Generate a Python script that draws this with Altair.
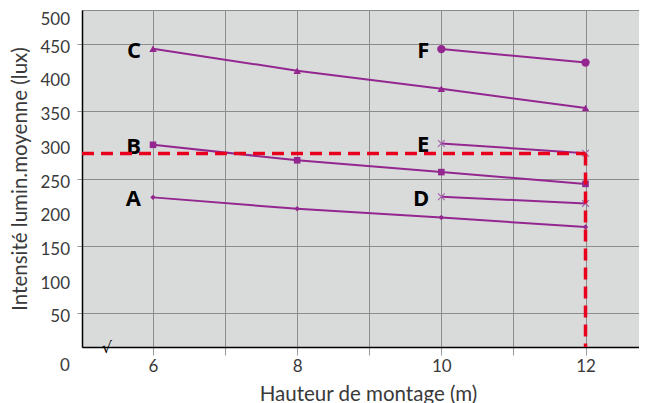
import altair as alt
import pandas as pd

# ---- data ----
series_names = ["A", "B", "C", "D", "E", "F"]
heights_ABC = [6, 8, 10, 12]
heights_DEF = [10, 12]
values_A = [222, 205, 192, 178]
values_B = [300, 277, 259.5, 242]
values_C = [442.5, 410, 383, 354.5]
values_D = [223, 213]
values_E = [302, 287.5]
values_F = [442, 422]
threshold_lux = 287
target_height = 12
x_domain = [5.015, 12.742]
y_domain = [0, 500]
x_ticks = [6, 7, 8, 9, 10, 11, 12]
y_ticks = [50, 100, 150, 200, 250, 300, 350, 400, 450, 500]
x_title = "Hauteur de montage (m)"
y_title = "Intensité lumin.moyenne (lux)"
origin_label = "0"
origin_label_x = 4.78
break_x = 5.36

PURPLE = "#93278f"
RED = "#e8001c"
FONT = "Lato"
LABEL_COLOR = "#3a3a3a"

series_data = {
    "A": (heights_ABC, values_A),
    "B": (heights_ABC, values_B),
    "C": (heights_ABC, values_C),
    "D": (heights_DEF, values_D),
    "E": (heights_DEF, values_E),
    "F": (heights_DEF, values_F),
}
rows = []
for name in series_names:
    xs_, ys_ = series_data[name]
    for i, (x, y) in enumerate(zip(xs_, ys_)):
        rows.append({"series": name, "h": x, "lux": y, "first": i == 0})
df = pd.DataFrame(rows)

xs = alt.Scale(domain=x_domain, nice=False, zero=False)
ys = alt.Scale(domain=y_domain, nice=False)

x_axis = alt.Axis(
    values=x_ticks,
    format="d",
    labelExpr="datum.value % 2 == 0 ? datum.label : ''",
    title=x_title,
    tickSize=8,
    labelPadding=3,
    titleX=286,
    titleY=37,
    titleBaseline="top",
)
y_axis = alt.Axis(
    values=y_ticks,
    labels=False,
    title=y_title,
    tickSize=5,
    titleX=-62,
    titleY=168.5,
    titleAngle=-90,
    titleAlign="center",
    titleBaseline="middle",
)

base = alt.Chart(df)

lines = base.mark_line(color=PURPLE, strokeWidth=2).encode(
    x=alt.X("h:Q", scale=xs, axis=x_axis),
    y=alt.Y("lux:Q", scale=ys, axis=y_axis),
    detail="series:N",
)

filled_names = ["A", "B", "C", "F"]
pts = base.transform_filter(
    alt.FieldOneOfPredicate(field="series", oneOf=filled_names)
).mark_point(filled=True, opacity=1, color=PURPLE).encode(
    x=alt.X("h:Q", scale=xs),
    y=alt.Y("lux:Q", scale=ys),
    shape=alt.Shape(
        "series:N",
        scale=alt.Scale(domain=filled_names, range=["diamond", "square", "triangle-up", "circle"]),
        legend=None,
    ),
    size=alt.Size(
        "series:N",
        scale=alt.Scale(domain=filled_names, range=[30, 70, 70, 60]),
        legend=None,
    ),
)

xpts = base.transform_filter(
    alt.FieldOneOfPredicate(field="series", oneOf=["D", "E"])
).mark_point(
    shape="M-1,-1L1,1M-1,1L1,-1", filled=False, color="#a463ac", size=45, strokeWidth=1.2, opacity=1
).encode(
    x=alt.X("h:Q", scale=xs),
    y=alt.Y("lux:Q", scale=ys),
)

labels = base.transform_filter(alt.datum.first).mark_text(
    align="right", baseline="middle", dx=-12, dy=2, fontSize=22, fontWeight="bold",
    font="Open Sans", color="#000000"
).encode(
    x=alt.X("h:Q", scale=xs),
    y=alt.Y("lux:Q", scale=ys),
    text="series:N",
)

# y tick labels, positioned by the y scale
ytick_df = pd.DataFrame({"lux": y_ticks})
ylabels = alt.Chart(ytick_df).transform_filter(
    alt.datum.lux < y_domain[1]
).mark_text(
    align="right", baseline="middle", dy=4, fontSize=17, font=FONT, color=LABEL_COLOR
).encode(
    x=alt.value(-12),
    y=alt.Y("lux:Q", scale=ys),
    text=alt.Text("lux:Q", format="d"),
)
ylabel_top = alt.Chart(ytick_df).transform_filter(
    alt.datum.lux >= y_domain[1]
).mark_text(
    align="right", baseline="middle", dy=10, fontSize=17, font=FONT, color=LABEL_COLOR
).encode(
    x=alt.value(-12),
    y=alt.Y("lux:Q", scale=ys),
    text=alt.Text("lux:Q", format="d"),
)

hrule_df = pd.DataFrame({"h": [x_domain[0]], "x1": [target_height], "lux": [threshold_lux]})
vrule_df = pd.DataFrame({"h": [target_height], "y0": [y_domain[0]], "lux": [threshold_lux]})

hrule = alt.Chart(hrule_df).mark_rule(
    color=RED, strokeWidth=3.5, strokeDash=[12, 7]
).encode(
    x=alt.X("h:Q", scale=xs), x2="x1:Q", y=alt.Y("lux:Q", scale=ys)
)
vrule = alt.Chart(vrule_df).mark_rule(
    color=RED, strokeWidth=3.5, strokeDash=[12, 7]
).encode(
    x=alt.X("h:Q", scale=xs), y=alt.Y("lux:Q", scale=ys), y2="y0:Q"
)

misc_df = pd.DataFrame({"h": [origin_label_x], "lux": [y_domain[0]], "t": [origin_label]})
origin = alt.Chart(misc_df).mark_text(
    fontSize=17, font=FONT, color=LABEL_COLOR, baseline="middle", dy=19
).encode(x=alt.X("h:Q", scale=xs), y=alt.Y("lux:Q", scale=ys), text="t:N")

brk_df = pd.DataFrame({"h": [break_x], "lux": [y_domain[0]], "t": ["√"]})
brk = alt.Chart(brk_df).mark_text(
    fontSize=16, font="DejaVu Sans", color="#000000", baseline="middle", dy=1
).encode(x=alt.X("h:Q", scale=xs), y=alt.Y("lux:Q", scale=ys), text="t:N")

chart = alt.layer(
    lines, pts, xpts, labels, ylabels, ylabel_top, hrule, vrule, origin, brk
).properties(
    width=557,
    height=337,
    background="#ffffff",
    autosize=alt.AutoSizeParams(type="none"),
    padding={"left": 74, "top": 2, "right": 0, "bottom": 56},
).configure_view(
    fill="#d9dbdb", stroke="#8a8a8a", strokeWidth=1
).configure_axis(
    grid=True,
    gridColor="#8c8c8c",
    tickColor="#9a9a9a",
    domainColor="#000000",
    domainWidth=1.5,
    labelFontSize=17,
    labelColor=LABEL_COLOR,
    labelFont=FONT,
    titleFont=FONT,
    titleFontSize=20.5,
    titleFontWeight="normal",
    titleColor=LABEL_COLOR,
)

chart.save("out.html", embed_options={"renderer": "svg", "actions": False})
